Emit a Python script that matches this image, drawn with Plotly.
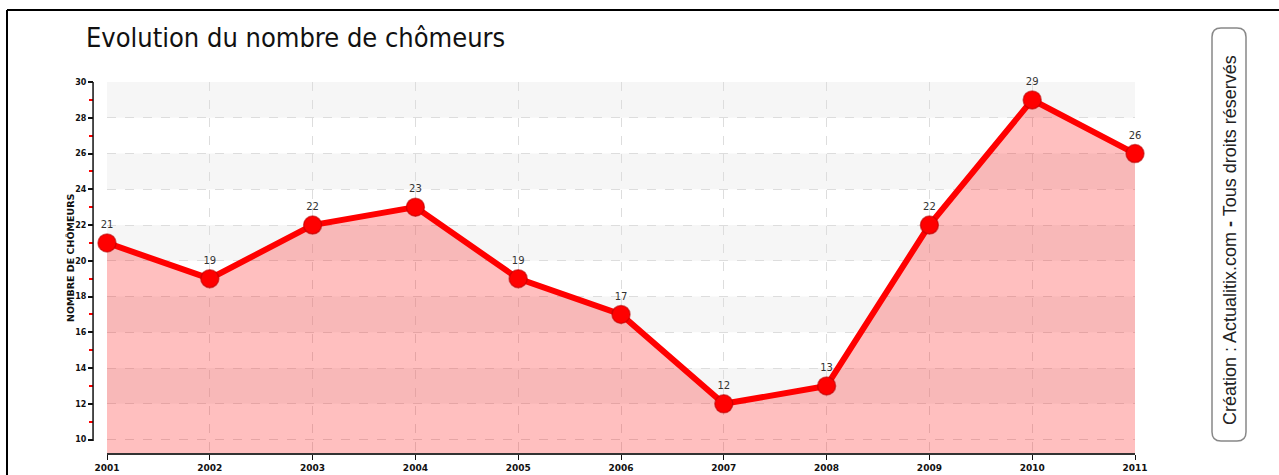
import plotly.graph_objects as go

years = [2001, 2002, 2003, 2004, 2005, 2006, 2007, 2008, 2009, 2010, 2011]
chomeurs = [21, 19, 22, 23, 19, 17, 12, 13, 22, 29, 26]
band_ranges = [(12, 14), (16, 18), (20, 22), (24, 26), (28, 30)]
y_ticks = [10, 12, 14, 16, 18, 20, 22, 24, 26, 28, 30]
y_minor = [11, 13, 15, 17, 19, 21, 23, 25, 27, 29]

W, H = 1279, 475

def px(x):
    return x / W

def py(y):
    return 1 - y / H

fig = go.Figure()
fig.add_trace(go.Scatter(
    x=years, y=chomeurs, mode="lines+markers+text",
    text=[str(v) for v in chomeurs], textposition="top center",
    textfont=dict(family="DejaVu Sans", size=10, color="#333333"),
    line=dict(color="#ff0000", width=6),
    marker=dict(size=18, color="#ff0000", line=dict(color="rgba(190,0,0,0.6)", width=1.5)),
    fill="tozeroy", fillcolor="rgba(255,0,0,0.25)",
    cliponaxis=False, hoverinfo="x+y",
))

shapes = []
for y0, y1 in band_ranges:
    shapes.append(dict(type="rect", xref="x", yref="y", x0=years[0], x1=years[-1],
                       y0=y0, y1=y1, fillcolor="#f6f6f6", line=dict(width=0), layer="below"))
# y axis line (from 10 to 30), drawn as a rect so it is surely visible
shapes.append(dict(type="rect", xref="paper", yref="paper", x0=px(92.3), x1=px(93.8),
                   y0=py(441), y1=py(82), fillcolor="#111111", line=dict(width=0), layer="above"))
# outer border
shapes.append(dict(type="line", xref="paper", yref="paper", x0=px(7), x1=1, y0=py(10), y1=py(10),
                   line=dict(color="#000000", width=2)))
shapes.append(dict(type="line", xref="paper", yref="paper", x0=px(7), x1=px(7), y0=py(10), y1=0,
                   line=dict(color="#000000", width=2)))
# rounded box on the right
x0, x1, y0, y1, r = 1212, 1246, 28, 441, 9
path = (f"M {px(x0 + r)},{py(y0)} L {px(x1 - r)},{py(y0)} Q {px(x1)},{py(y0)} {px(x1)},{py(y0 + r)} "
        f"L {px(x1)},{py(y1 - r)} Q {px(x1)},{py(y1)} {px(x1 - r)},{py(y1)} "
        f"L {px(x0 + r)},{py(y1)} Q {px(x0)},{py(y1)} {px(x0)},{py(y1 - r)} "
        f"L {px(x0)},{py(y0 + r)} Q {px(x0)},{py(y0)} {px(x0 + r)},{py(y0)} Z")
shapes.append(dict(type="path", xref="paper", yref="paper", path=path,
                   line=dict(color="#888888", width=1.5), fillcolor="rgba(0,0,0,0)"))

annotations = [
    dict(text="Evolution du nombre de chômeurs", xref="paper", yref="paper",
         x=px(84), y=py(38), xanchor="left", yanchor="middle", showarrow=False,
         font=dict(family="Liberation Sans Narrow, DejaVu Sans Condensed, DejaVu Sans", size=27, color="#111111")),
    dict(text="NOMBRE DE CHÔMEURS", xref="paper", yref="paper", textangle=-90,
         x=px(70), y=py(258), xanchor="center", yanchor="middle", showarrow=False,
         font=dict(family="DejaVu Sans", size=9.5, color="#111111", weight="bold")),
    dict(text="Création : Actualitix.com <b>-</b> Tous droits réservés", xref="paper", yref="paper",
         textangle=-90, x=px(1230), y=py(240), xanchor="center", yanchor="middle", showarrow=False,
         font=dict(family="Liberation Sans, Arial", size=18, color="#222222")),
]

fig.update_layout(
    width=W, height=H, margin=dict(l=0, r=0, t=0, b=0, autoexpand=False),
    paper_bgcolor="white", plot_bgcolor="rgba(0,0,0,0)",
    showlegend=False, shapes=shapes, annotations=annotations,
    xaxis=dict(domain=[px(107), px(1135)], range=[years[0], years[-1]],
               tickmode="array", tickvals=years, ticktext=[str(y) for y in years],
               showgrid=True, gridcolor="#dddddd", griddash="dash", gridwidth=1,
               showline=True, linecolor="#333333", linewidth=2,
               ticks="outside", ticklen=5, tickcolor="#111111",
               tickfont=dict(family="DejaVu Sans", size=9, color="#111111", weight="bold"),
               zeroline=False, fixedrange=True, automargin=False),
    yaxis=dict(domain=[py(453), py(82)], range=[9.25, 30],
               anchor="free", position=px(93),
               tickmode="array", tickvals=y_ticks,
               showgrid=True, gridcolor="#dddddd", griddash="dash", gridwidth=1,
               showline=False, ticks="outside", ticklen=5, tickcolor="#111111", tickwidth=1.5,
               tickfont=dict(family="DejaVu Sans", size=8, color="#111111", weight="bold"),
               minor=dict(tickvals=y_minor, ticks="outside",
                          ticklen=4, tickcolor="#ff0000", tickwidth=1.5, showgrid=False),
               zeroline=False, fixedrange=True, automargin=False),
)

fig.write_html("out.html", config={"displayModeBar": False},
               post_script="document.body.style.margin='0px';document.body.style.overflow='hidden';")
